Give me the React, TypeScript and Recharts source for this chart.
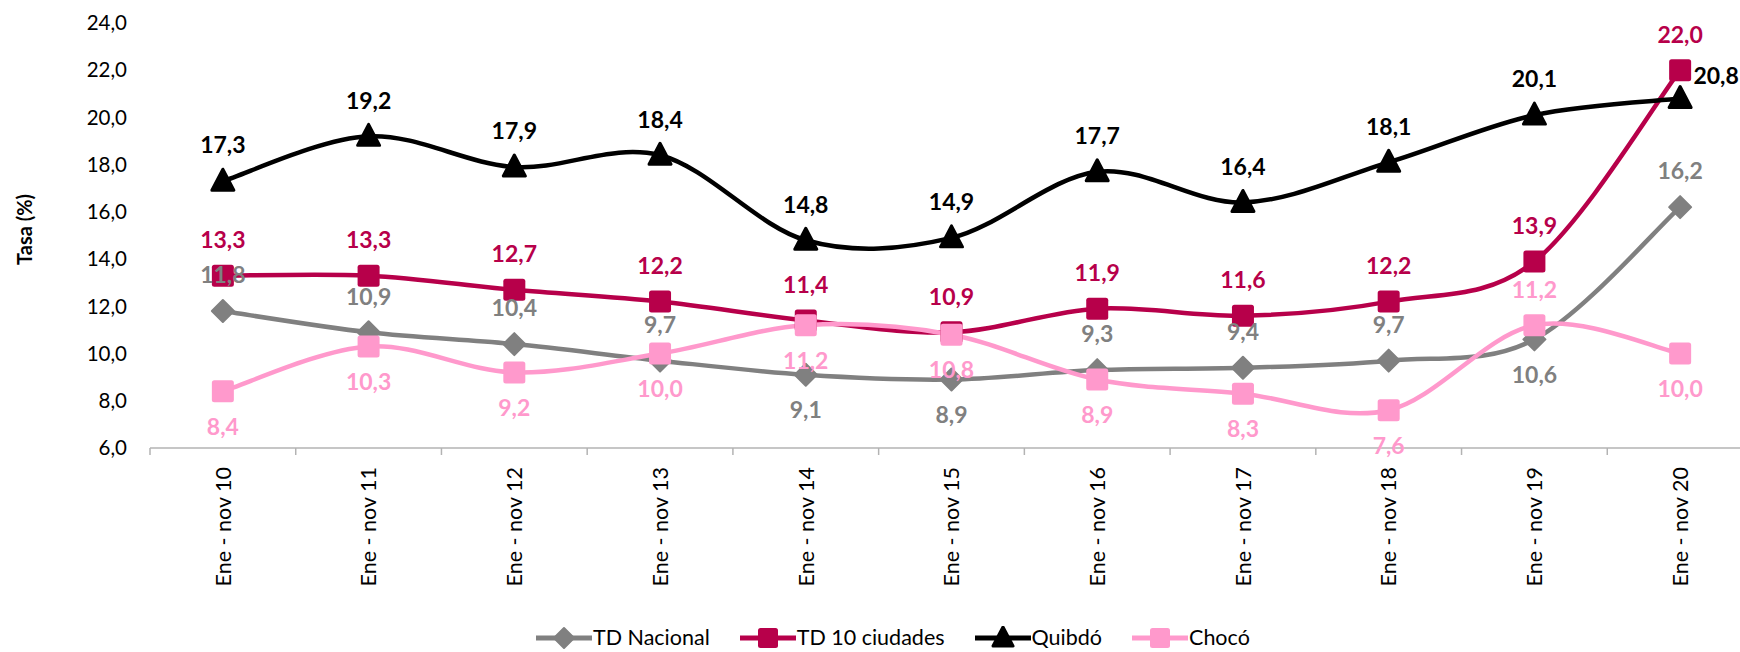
import React from 'react';
import { LineChart, Line, XAxis, YAxis, Legend, LabelList } from 'recharts';

const categories = [
  'Ene - nov 10', 'Ene - nov 11', 'Ene - nov 12', 'Ene - nov 13', 'Ene - nov 14', 'Ene - nov 15',
  'Ene - nov 16', 'Ene - nov 17', 'Ene - nov 18', 'Ene - nov 19', 'Ene - nov 20',
];
const tdNacional = [11.8, 10.9, 10.4, 9.7, 9.1, 8.9, 9.3, 9.4, 9.7, 10.6, 16.2];
const td10Ciudades = [13.3, 13.3, 12.7, 12.2, 11.4, 10.9, 11.9, 11.6, 12.2, 13.9, 22.0];
const quibdo = [17.3, 19.2, 17.9, 18.4, 14.8, 14.9, 17.7, 16.4, 18.1, 20.1, 20.8];
const choco = [8.4, 10.3, 9.2, 10.0, 11.2, 10.8, 8.9, 8.3, 7.6, 11.2, 10.0];
const yTicks = [6, 8, 10, 12, 14, 16, 18, 20, 22, 24];

// where each data label sits: a = above, b = below, r = right
const nacPos = ['a', 'a', 'a', 'a', 'b', 'b', 'a', 'a', 'a', 'b', 'a'];
const td10Pos = ['a', 'a', 'a', 'a', 'a', 'a', 'a', 'a', 'a', 'a', 'a'];
const quibdoPos = ['a', 'a', 'a', 'a', 'a', 'a', 'a', 'a', 'a', 'a', 'r'];
const chocoPos = ['b', 'b', 'b', 'b', 'b', 'b', 'b', 'b', 'b', 'a', 'b'];

const data = categories.map((cat, i) => ({
  cat,
  nac: tdNacional[i],
  td10: td10Ciudades[i],
  quibdo: quibdo[i],
  choco: choco[i],
}));

const CHART_W = 1760;
const CHART_H = 652;
const MARGIN = { top: 23, right: 7, left: 0, bottom: 0 };
const Y_W = 150;
const HALF_STEP = (CHART_W - MARGIN.left - MARGIN.right - Y_W) / categories.length / 2;
const FONT = 'Lato, "Open Sans", sans-serif';
const AXIS_GRAY = '#B3B3B3';

const fmt = (v: number) => v.toFixed(1).replace('.', ',');

// excel-like smoothing (catmull-rom)
const smooth = (context: any) => {
  let pts: number[][] = [];
  return {
    areaStart() {},
    areaEnd() {},
    lineStart() { pts = []; },
    point(x: number, y: number) { pts.push([+x, +y]); },
    lineEnd() {
      if (!pts.length) return;
      context.moveTo(pts[0][0], pts[0][1]);
      for (let i = 0; i < pts.length - 1; i++) {
        const p0 = pts[i - 1] || pts[i];
        const p1 = pts[i];
        const p2 = pts[i + 1];
        const p3 = pts[i + 2] || p2;
        context.bezierCurveTo(
          p1[0] + (p2[0] - p0[0]) / 6, p1[1] + (p2[1] - p0[1]) / 6,
          p2[0] - (p3[0] - p1[0]) / 6, p2[1] - (p3[1] - p1[1]) / 6,
          p2[0], p2[1],
        );
      }
    },
  };
};

type Shape = 'diamond' | 'square' | 'triangle';

function Marker({ cx, cy, shape, color, s = 11 }: { cx: number; cy: number; shape: Shape; color: string; s?: number }) {
  if (shape === 'square') {
    return <rect x={cx - s} y={cy - s} width={s * 2} height={s * 2} rx={2.5} fill={color} />;
  }
  if (shape === 'diamond') {
    return (
      <polygon
        points={`${cx},${cy - s} ${cx + s},${cy} ${cx},${cy + s} ${cx - s},${cy}`}
        fill={color} stroke={color} strokeWidth={2} strokeLinejoin="round"
      />
    );
  }
  return (
    <polygon
      points={`${cx},${cy - s - 1} ${cx + s},${cy + s - 2} ${cx - s},${cy + s - 2}`}
      fill={color} stroke={color} strokeWidth={3} strokeLinejoin="round"
    />
  );
}

const dotRenderer = (shape: Shape, color: string) => (props: any) => {
  const { cx, cy, index } = props;
  if (cx == null || cy == null) return <g key={`e-${index}`} />;
  return <Marker key={`m-${shape}-${index}`} cx={cx} cy={cy} shape={shape} color={color} />;
};

const labelRenderer = (color: string, pos: string[]) => (props: any) => {
  const { x, y, value, index } = props;
  const p = pos[index];
  let lx = x;
  let ly = y - 36;
  if (p === 'b') ly = y + 35;
  if (p === 'r') { lx = x + 36; ly = y - 23; }
  return (
    <text
      key={`l-${color}-${index}`}
      x={lx} y={ly} dy="0.36em" textAnchor="middle"
      fill={color} fontSize={23} fontWeight={700} fontFamily={FONT}
    >
      {fmt(value)}
    </text>
  );
};

function XTick(props: any) {
  const { x, y, payload, index } = props;
  const last = index === categories.length - 1;
  const ty = y + 19;
  return (
    <g>
      <line x1={x - HALF_STEP} x2={x - HALF_STEP} y1={y} y2={y + 7} stroke={AXIS_GRAY} strokeWidth={1.5} />
      {last && <line x1={x + HALF_STEP} x2={x + HALF_STEP} y1={y} y2={y + 7} stroke={AXIS_GRAY} strokeWidth={1.5} />}
      <text
        x={x} y={ty} dy="0.36em" textAnchor="end"
        transform={`rotate(-90, ${x}, ${ty})`}
        fontSize={21.5} fill="#000" fontFamily={FONT}
      >
        {payload.value}
      </text>
    </g>
  );
}

const series = [
  { key: 'nac', name: 'TD Nacional', color: '#808080', shape: 'diamond' as Shape, pos: nacPos },
  { key: 'td10', name: 'TD 10 ciudades', color: '#B7004A', shape: 'square' as Shape, pos: td10Pos },
  { key: 'quibdo', name: 'Quibdó', color: '#000000', shape: 'triangle' as Shape, pos: quibdoPos },
  { key: 'choco', name: 'Chocó', color: '#FF99CC', shape: 'square' as Shape, pos: chocoPos },
];

function LegendContent() {
  return (
    <div
      style={{
        display: 'flex', alignItems: 'center', gap: 30, height: 28,
        fontFamily: FONT, fontSize: 21.5, lineHeight: 1, color: '#000',
      }}
    >
      {series.map((s) => (
        <div key={s.key} style={{ display: 'flex', alignItems: 'center', gap: 1 }}>
          <svg width={56} height={24} style={{ display: 'block' }}>
            <line x1={0} x2={56} y1={12} y2={12} stroke={s.color} strokeWidth={5} />
            <Marker cx={28} cy={12} shape={s.shape} color={s.color} s={10} />
          </svg>
          <span>{s.name}</span>
        </div>
      ))}
    </div>
  );
}

export default function App() {
  return (
    <div style={{ position: 'fixed', left: 0, top: 0, width: 1740, height: CHART_H, overflow: 'hidden', background: '#fff' }}>
      <LineChart width={CHART_W} height={CHART_H} data={data} margin={MARGIN} style={{ fontFamily: FONT }}>
        <XAxis
          dataKey="cat"
          interval={0}
          height={176}
          padding={{ left: HALF_STEP, right: HALF_STEP }}
          axisLine={{ stroke: AXIS_GRAY, strokeWidth: 1.5 }}
          tickLine={false}
          tickSize={0}
          tickMargin={0}
          tick={<XTick />}
        />
        <YAxis
          width={Y_W}
          domain={[6, 24]}
          ticks={yTicks}
          interval={0}
          axisLine={false}
          tickLine={false}
          tickSize={0}
          tickMargin={23}
          tickFormatter={fmt}
          tick={{ fontSize: 20.5, fill: '#000', fontFamily: FONT }}
          label={{
            content: (p: any) => {
              const vb = p.viewBox || {};
              const cx = (vb.x || 0) + 25;
              const cy = (vb.y || 0) + (vb.height || 0) / 2 - 6;
              return (
                <text
                  x={cx} y={cy} dy="0.36em" textAnchor="middle"
                  transform={`rotate(-90, ${cx}, ${cy})`}
                  fontSize={20} fontWeight={700} fontFamily={FONT} fill="#000"
                >
                  Tasa (%)
                </text>
              );
            },
          }}
        />
        <Legend
          verticalAlign="bottom"
          align="left"
          content={<LegendContent />}
          wrapperStyle={{ left: 536, bottom: 0, height: 28, width: 800 }}
        />
        {series.map((s) => (
          <Line
            key={s.key}
            dataKey={s.key}
            name={s.name}
            type={smooth as any}
            stroke={s.color}
            strokeWidth={4.5}
            dot={dotRenderer(s.shape, s.color)}
            activeDot={false}
            isAnimationActive={false}
          >
            <LabelList dataKey={s.key} content={labelRenderer(s.color, s.pos)} />
          </Line>
        ))}
      </LineChart>
    </div>
  );
}
